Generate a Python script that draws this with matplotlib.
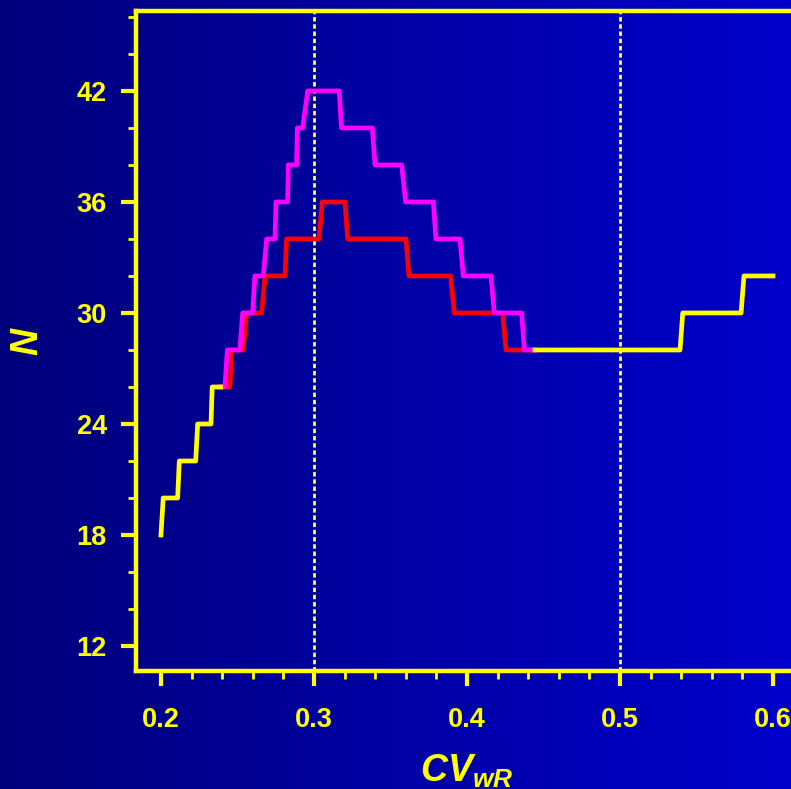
import numpy as np
import matplotlib
matplotlib.use("Agg")
import matplotlib.pyplot as plt
from matplotlib.ticker import MultipleLocator
from matplotlib.colors import LinearSegmentedColormap

plt.rcParams['font.family'] = ['Liberation Sans', 'DejaVu Sans']
plt.rcParams['mathtext.fontset'] = 'custom'
plt.rcParams['mathtext.it'] = 'Liberation Sans:italic:bold'
plt.rcParams['mathtext.rm'] = 'Liberation Sans'

#------------------------------------------------------------------
# values (CV_wR, N)
yellow_lo_cv = [0.2000, 0.2015, 0.2109, 0.2120, 0.2227, 0.2240, 0.2327, 0.2335, 0.2390]
yellow_lo_n  = [18, 20, 20, 22, 22, 24, 24, 26, 26]

magenta_cv = [0.2386, 0.2418, 0.2434, 0.2516, 0.2534, 0.2599, 0.2614, 0.2669,
              0.2691, 0.2745, 0.2752, 0.2828, 0.2832, 0.2887, 0.2891, 0.2926,
              0.2959, 0.3165, 0.3180, 0.3381, 0.3399, 0.3573, 0.3599, 0.3780,
              0.3797, 0.3954, 0.3976, 0.4157, 0.4178, 0.4357, 0.4375, 0.4444]
magenta_n  = [26, 26, 28, 28, 30, 30, 32, 32, 34, 34, 36, 36, 38, 38, 40, 40,
              42, 42, 40, 40, 38, 38, 36, 36, 34, 34, 32, 32, 30, 30, 28, 28]

red_cv = [0.2386, 0.2451, 0.2462, 0.2538, 0.2560, 0.2658, 0.2680, 0.2810,
          0.2821, 0.3033, 0.3054, 0.3203, 0.3220, 0.3601, 0.3621, 0.3893,
          0.3917, 0.4233, 0.4255, 0.4444]
red_n  = [26, 26, 28, 28, 30, 30, 32, 32, 34, 34, 36, 36, 34, 34, 32, 32,
          30, 30, 28, 28]

yellow_hi_cv = [0.4444, 0.5392, 0.5410, 0.5791, 0.5810, 0.6000]
yellow_hi_n  = [28, 28, 30, 30, 32, 32]

ref_lines = [0.3, 0.5]
x_ticks = [0.2, 0.3, 0.4, 0.5, 0.6]
y_ticks = [12, 18, 24, 30, 36, 42]

YEL = '#ffff00'

#------------------------------------------------------------------
fig = plt.figure(figsize=(7.91, 7.89), dpi=100)

# gradient background
bg = fig.add_axes([0, 0, 1, 1], zorder=-1)
grad = np.linspace(0, 1, 256).reshape(1, -1)
cmap = LinearSegmentedColormap.from_list('bg', ['#00007c', '#0000cc'])
bg.imshow(grad, aspect='auto', cmap=cmap, extent=[0, 1, 0, 1])
bg.axis('off')

ax = fig.add_axes([136/791, 1 - 671/789, (798-136)/791, (671-11)/789])
ax.set_facecolor('none')

for xv in ref_lines:
    ax.axvline(xv, color='#ffff66', lw=2, dashes=(1.6, 1), zorder=1)

ax.plot(red_cv, red_n, color='#ff0000', lw=3.4, zorder=2)
ax.plot(magenta_cv, magenta_n, color='#ff00ff', lw=3.4, zorder=3)
ax.plot(yellow_lo_cv, yellow_lo_n, color=YEL, lw=3.4, zorder=4)
ax.plot(yellow_hi_cv, yellow_hi_n, color=YEL, lw=3.4, zorder=4)

ax.set_xlim(0.1837, 0.6163)
ax.set_ylim(10.65, 46.32)
ax.set_xticks(x_ticks)
ax.set_xticklabels([str(v) for v in x_ticks])
ax.set_yticks(y_ticks)
ax.xaxis.set_minor_locator(MultipleLocator(0.02))
ax.yaxis.set_minor_locator(MultipleLocator(2))

for side in ['left', 'top', 'bottom']:
    ax.spines[side].set_color(YEL)
    ax.spines[side].set_linewidth(3.2)
ax.spines['right'].set_visible(False)

ax.tick_params(which='major', direction='out', length=11, width=3, color=YEL,
               labelcolor=YEL, labelsize=19.5)
ax.tick_params(axis='x', which='major', pad=15)
ax.tick_params(axis='y', which='major', pad=10)
ax.tick_params(which='minor', direction='out', length=5.5, width=2, color=YEL)
for lab in ax.get_xticklabels() + ax.get_yticklabels():
    lab.set_fontweight('bold')

ax.set_xlabel(r'$CV_{wR}$', color=YEL, fontsize=27, labelpad=14)
ax.set_ylabel(r'$N$', color=YEL, fontsize=27, labelpad=22)

fig.savefig('out.png', dpi=100)
